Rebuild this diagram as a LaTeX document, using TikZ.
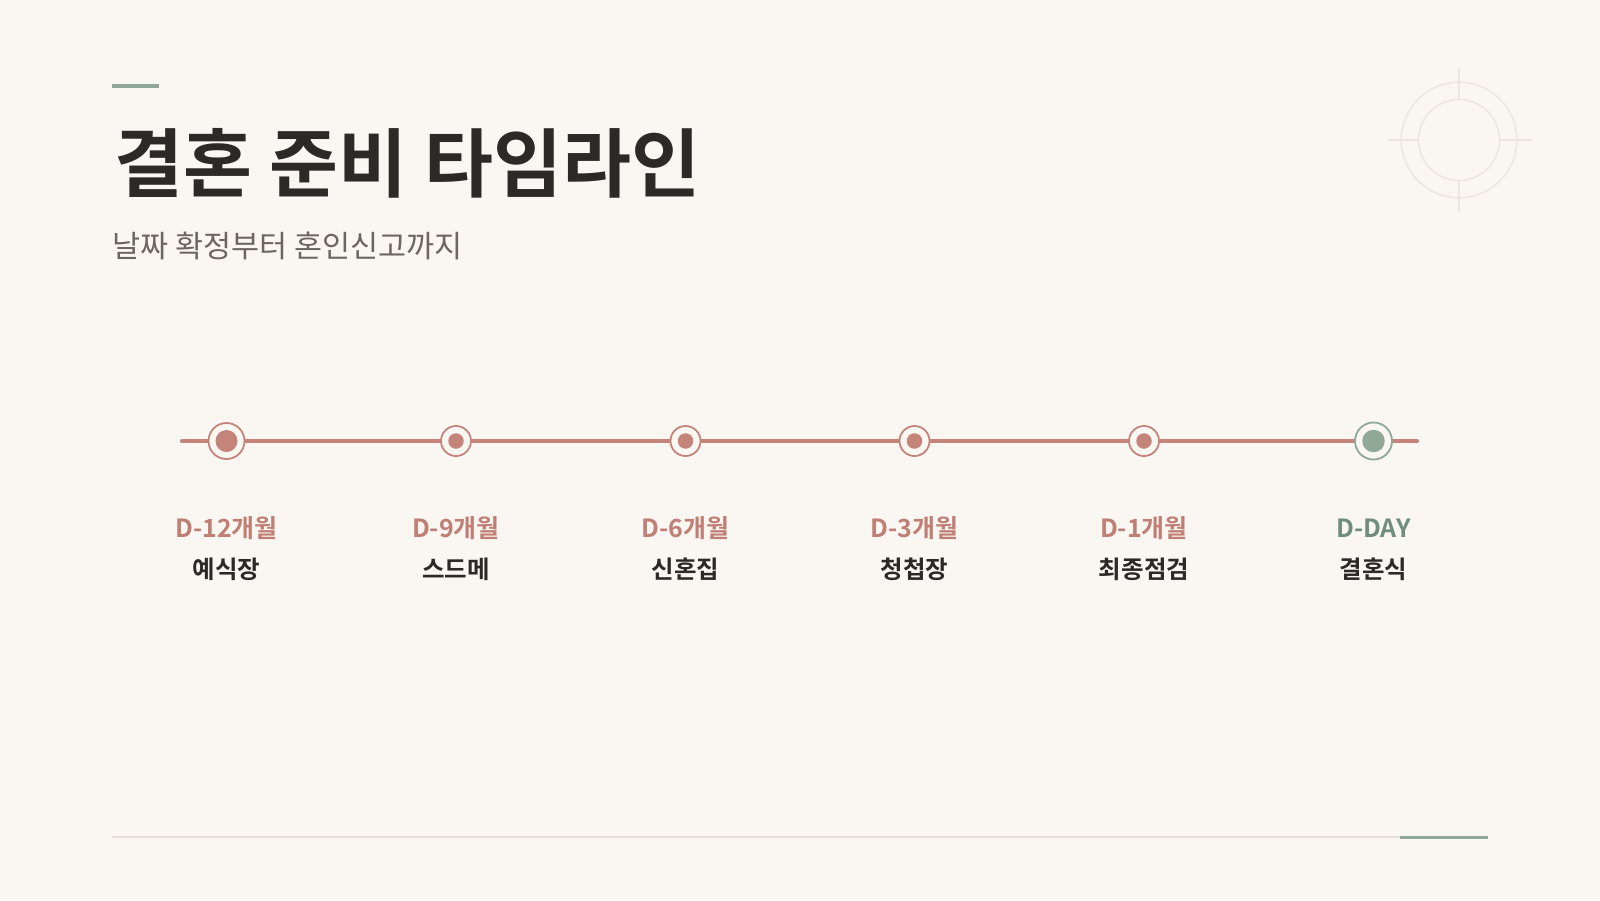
\documentclass[tikz,border=0pt]{standalone}
\usepackage{fontspec}
\setmainfont{Noto Sans CJK KR}
\newfontfamily\krb{Noto Sans CJK KR Bold}
\definecolor{bg}{HTML}{FAF7F2}
\definecolor{rose}{HTML}{C4847A}
\definecolor{rosetext}{HTML}{BF7F74}
\definecolor{sage}{HTML}{8FA898}
\definecolor{sagetext}{HTML}{708C7A}
\definecolor{ink}{HTML}{2D2926}
\definecolor{subgray}{HTML}{6B6661}
\definecolor{deco}{HTML}{ECE6E0}
\definecolor{rule}{HTML}{E4DFD9}
\tikzset{
  ring/.style={circle, draw=rose, line width=1.8pt, fill=bg, inner sep=0pt, minimum size=#1},
  dot/.style={circle, fill=rose, inner sep=0pt, minimum size=#1},
  period/.style={font=\krb\fontsize{25}{28}\selectfont, text=rosetext, inner sep=0pt, anchor=center},
  task/.style={font=\krb\fontsize{24.5}{28}\selectfont, text=ink, inner sep=0pt, anchor=center},
}
\begin{document}
\begin{tikzpicture}[x=1pt,y=-1pt]
\fill[bg] (0,0) rectangle (1600,900);
\useasboundingbox (0,0) rectangle (1600,900);
% top accent
\coordinate (ta1) at (112,86); \coordinate (ta2) at (159,86);
\draw[sage, line width=4pt] (ta1) -- (ta2);
% title
\node[anchor=west, inner sep=0pt, text=ink, font=\krb\fontsize{75}{80}\selectfont] (title) at (114,163) {결혼 준비 타임라인};
\node[anchor=west, inner sep=0pt, text=subgray, font=\fontsize{30.5}{34}\selectfont] (sub) at (112,246) {날짜 확정부터 혼인신고까지};
% deco crosshair
\coordinate (dc) at (1459,140);
\draw[deco, line width=1.5pt] (dc) circle (57.8);
\draw[deco, line width=1.5pt] (dc) circle (40.5);
\draw[deco, line width=1.5pt] (1459,68) -- (1459,99.5) (1459,180.5) -- (1459,212)
  (1388,140) -- (1418.5,140) (1499.5,140) -- (1532,140);
% timeline
\coordinate (l1) at (182,441); \coordinate (l2) at (1417,441);
\draw[rose, line width=4pt, line cap=round] (l1) -- (l2);
\foreach \i/\x/\p/\t in {1/226.5/D-12개월/예식장, 2/456/D-9개월/스드메, 3/685.5/D-6개월/신혼집, 4/914.5/D-3개월/청첩장, 5/1144/D-1개월/최종점검}{
  \ifnum\i=1
    \node[ring=36pt] (r\i) at (\x,441) {};
    \node[dot=22pt] (d\i) at (r\i) {};
  \else
    \node[ring=30pt] (r\i) at (\x,441) {};
    \node[dot=15.5pt] (d\i) at (r\i) {};
  \fi
  \node[period] (p\i) at (\x,528) {\p};
  \node[task] (t\i) at (\x,569) {\t};
}
\node[ring=37pt, draw=sage] (r6) at (1373.5,441) {};
\node[dot=22.5pt, fill=sage] (d6) at (r6) {};
\node[period, text=sagetext] (p6) at (1373.5,528) {D-DAY};
\node[task] (t6) at (1373.5,569) {결혼식};
% bottom rule
\coordinate (b1) at (112,837); \coordinate (b2) at (1400,837); \coordinate (b3) at (1488,837);
\draw[rule, line width=1.2pt] (b1) -- (b2);
\draw[sage, line width=3pt] (b2) -- (b3);
\end{tikzpicture}
\end{document}
